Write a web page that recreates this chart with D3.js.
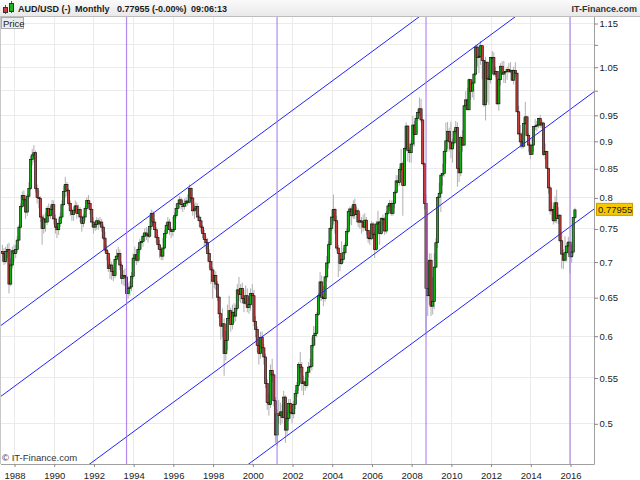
<!DOCTYPE html>
<html>
<head>
<meta charset="utf-8">
<script src="https://cdn.jsdelivr.net/npm/d3@7"></script>
<style>
body { margin: 0; background: #fff; }
svg { display: block; }
text { font-family: "Liberation Sans", Arial, sans-serif; }
</style>
</head>
<body>
<svg id="chart" width="640" height="480"></svg>
<script>
// monthly AUD/USD candles, first one is June 1987
var firstMonth = new Date(1987, 5, 1)
var firstOpen = 0.715

var closes = [
  0.712, 0.700, 0.715, 0.718, 0.668, 0.695, 0.716,
  0.712, 0.718, 0.732, 0.752, 0.785, 0.803, 0.796, 0.776, 0.802, 0.815, 0.866, 0.874,
  0.878, 0.815, 0.800, 0.798, 0.768, 0.750, 0.765, 0.760, 0.782, 0.770, 0.780, 0.788,
  0.765, 0.752, 0.748, 0.758, 0.768, 0.788, 0.810, 0.822, 0.812, 0.790, 0.778, 0.772,
  0.779, 0.786, 0.774, 0.780, 0.768, 0.758, 0.768, 0.782, 0.795, 0.790, 0.780, 0.760,
  0.752, 0.756, 0.762, 0.757, 0.760, 0.752, 0.735, 0.717, 0.712, 0.690, 0.695, 0.686,
  0.680, 0.703, 0.708, 0.712, 0.695, 0.676, 0.680, 0.678, 0.655, 0.662, 0.664, 0.679,
  0.705, 0.710, 0.702, 0.718, 0.728, 0.730, 0.738, 0.743, 0.740, 0.738, 0.753, 0.774,
  0.760, 0.748, 0.736, 0.725, 0.718, 0.708, 0.720, 0.742, 0.755, 0.760, 0.748, 0.745,
  0.748, 0.770, 0.782, 0.790, 0.796, 0.788, 0.785, 0.790, 0.794, 0.792, 0.815, 0.799,
  0.778, 0.781, 0.785, 0.768, 0.762, 0.752, 0.742, 0.733, 0.728, 0.712, 0.700, 0.688,
  0.672, 0.680, 0.668, 0.650, 0.628, 0.612, 0.615, 0.578, 0.594, 0.622, 0.632, 0.614,
  0.630, 0.625, 0.635, 0.660, 0.654, 0.662, 0.648, 0.642, 0.652, 0.636, 0.640, 0.655,
  0.652, 0.618, 0.608, 0.588, 0.578, 0.598, 0.585, 0.574, 0.543, 0.522, 0.520, 0.558,
  0.553, 0.524, 0.488, 0.510, 0.508, 0.512, 0.506, 0.528, 0.493, 0.505, 0.521, 0.511,
  0.510, 0.520, 0.532, 0.541, 0.565, 0.562, 0.543, 0.545, 0.541, 0.556, 0.562, 0.563,
  0.588, 0.600, 0.603, 0.627, 0.652, 0.671, 0.650, 0.648, 0.678, 0.698, 0.725, 0.750,
  0.768, 0.780, 0.762, 0.720, 0.712, 0.697, 0.703, 0.713, 0.724, 0.745, 0.777, 0.781,
  0.770, 0.788, 0.772, 0.778, 0.760, 0.762, 0.760, 0.752, 0.763, 0.747, 0.735, 0.734,
  0.757, 0.741, 0.718, 0.757, 0.760, 0.742, 0.766, 0.764, 0.746, 0.774, 0.786, 0.790,
  0.774, 0.790, 0.808, 0.828, 0.825, 0.848, 0.858, 0.820, 0.886, 0.928, 0.882, 0.878,
  0.894, 0.930, 0.912, 0.943, 0.955, 0.962, 0.940, 0.858, 0.790, 0.662, 0.652, 0.702,
  0.638, 0.644, 0.692, 0.728, 0.800, 0.807, 0.838, 0.841, 0.880, 0.900, 0.918, 0.898,
  0.885, 0.896, 0.918, 0.925, 0.850, 0.842, 0.906, 0.892, 0.968, 0.980, 0.960, 1.022,
  0.998, 1.015, 1.034, 1.094, 1.070, 1.072, 1.097, 1.064, 0.970, 1.060, 1.024, 1.022,
  1.070, 1.070, 1.034, 1.040, 0.972, 1.022, 1.051, 1.034, 1.038, 1.040, 1.044, 1.039,
  1.042, 1.021, 1.042, 1.036, 0.956, 0.913, 0.898, 0.890, 0.933, 0.946, 0.910, 0.892,
  0.875, 0.892, 0.927, 0.928, 0.930, 0.943, 0.930, 0.934, 0.875, 0.880, 0.850, 0.816,
  0.778, 0.780, 0.762, 0.791, 0.766, 0.771, 0.731, 0.711, 0.702, 0.713, 0.723, 0.729,
  0.707, 0.714, 0.767, 0.77955
]

var highs = [
  0.725, 0.720, 0.722, 0.726, 0.728, 0.705, 0.722,
  0.725, 0.725, 0.738, 0.756, 0.790, 0.810, 0.812, 0.800, 0.806, 0.825, 0.872, 0.885,
  0.892, 0.882, 0.822, 0.812, 0.802, 0.772, 0.772, 0.775, 0.786, 0.790, 0.786, 0.796,
  0.795, 0.772, 0.760, 0.765, 0.775, 0.795, 0.820, 0.835, 0.826, 0.815, 0.795, 0.782,
  0.785, 0.795, 0.792, 0.788, 0.784, 0.770, 0.772, 0.786, 0.800, 0.804, 0.795, 0.782,
  0.768, 0.762, 0.768, 0.766, 0.768, 0.765, 0.756, 0.745, 0.725, 0.715, 0.705, 0.700,
  0.692, 0.708, 0.718, 0.722, 0.718, 0.700, 0.688, 0.690, 0.682, 0.670, 0.672, 0.685,
  0.712, 0.722, 0.718, 0.722, 0.734, 0.738, 0.742, 0.750, 0.752, 0.750, 0.770, 0.780,
  0.778, 0.765, 0.752, 0.740, 0.732, 0.722, 0.735, 0.748, 0.760, 0.768, 0.765, 0.752,
  0.768, 0.775, 0.790, 0.796, 0.802, 0.800, 0.795, 0.798, 0.800, 0.805, 0.822, 0.818,
  0.800, 0.790, 0.792, 0.790, 0.772, 0.768, 0.755, 0.748, 0.738, 0.735, 0.718, 0.700,
  0.692, 0.688, 0.686, 0.672, 0.652, 0.630, 0.635, 0.622, 0.606, 0.640, 0.652, 0.636,
  0.640, 0.642, 0.640, 0.668, 0.678, 0.668, 0.670, 0.660, 0.666, 0.662, 0.650, 0.662,
  0.668, 0.660, 0.625, 0.612, 0.592, 0.605, 0.605, 0.590, 0.578, 0.548, 0.532, 0.565,
  0.572, 0.555, 0.528, 0.515, 0.525, 0.522, 0.520, 0.535, 0.530, 0.512, 0.526, 0.526,
  0.522, 0.524, 0.536, 0.545, 0.568, 0.580, 0.568, 0.552, 0.550, 0.558, 0.568, 0.572,
  0.598, 0.612, 0.612, 0.630, 0.656, 0.685, 0.680, 0.665, 0.680, 0.708, 0.730, 0.752,
  0.780, 0.805, 0.783, 0.770, 0.725, 0.710, 0.730, 0.720, 0.728, 0.750, 0.782, 0.785,
  0.786, 0.795, 0.798, 0.785, 0.782, 0.774, 0.768, 0.772, 0.774, 0.768, 0.748, 0.745,
  0.762, 0.760, 0.745, 0.762, 0.778, 0.762, 0.768, 0.772, 0.768, 0.778, 0.790, 0.796,
  0.795, 0.795, 0.812, 0.838, 0.838, 0.852, 0.885, 0.862, 0.888, 0.935, 0.930, 0.888,
  0.902, 0.948, 0.938, 0.948, 0.962, 0.985, 0.982, 0.940, 0.860, 0.805, 0.700, 0.712,
  0.712, 0.678, 0.712, 0.735, 0.802, 0.825, 0.842, 0.858, 0.885, 0.935, 0.936, 0.925,
  0.936, 0.904, 0.922, 0.938, 0.935, 0.880, 0.910, 0.920, 0.970, 0.998, 1.005, 1.025,
  1.020, 1.020, 1.036, 1.098, 1.101, 1.077, 1.108, 1.077, 1.060, 1.072, 1.056, 1.030,
  1.072, 1.085, 1.082, 1.050, 1.040, 1.025, 1.058, 1.062, 1.063, 1.040, 1.050, 1.058,
  1.060, 1.044, 1.050, 1.060, 1.037, 0.968, 0.930, 0.917, 0.945, 0.976, 0.948, 0.915,
  0.895, 0.905, 0.928, 0.942, 0.938, 0.944, 0.950, 0.940, 0.935, 0.895, 0.882, 0.850,
  0.820, 0.793, 0.786, 0.802, 0.813, 0.784, 0.772, 0.743, 0.718, 0.738, 0.728, 0.737,
  0.730, 0.725, 0.768, 0.783
]

var lows = [
  0.700, 0.695, 0.697, 0.705, 0.655, 0.665, 0.690,
  0.700, 0.705, 0.714, 0.730, 0.750, 0.782, 0.785, 0.765, 0.770, 0.798, 0.812, 0.855,
  0.860, 0.808, 0.790, 0.782, 0.760, 0.725, 0.742, 0.745, 0.755, 0.760, 0.765, 0.772,
  0.756, 0.742, 0.735, 0.740, 0.752, 0.764, 0.785, 0.800, 0.802, 0.786, 0.770, 0.762,
  0.762, 0.774, 0.765, 0.768, 0.760, 0.745, 0.752, 0.762, 0.778, 0.782, 0.772, 0.752,
  0.742, 0.746, 0.748, 0.748, 0.752, 0.745, 0.732, 0.712, 0.702, 0.685, 0.675, 0.674,
  0.672, 0.676, 0.696, 0.700, 0.688, 0.668, 0.666, 0.665, 0.640, 0.648, 0.652, 0.658,
  0.675, 0.700, 0.695, 0.698, 0.712, 0.718, 0.722, 0.730, 0.732, 0.728, 0.735, 0.748,
  0.752, 0.735, 0.728, 0.718, 0.705, 0.702, 0.702, 0.718, 0.735, 0.748, 0.740, 0.735,
  0.738, 0.745, 0.765, 0.775, 0.782, 0.780, 0.776, 0.780, 0.784, 0.786, 0.790, 0.788,
  0.770, 0.765, 0.772, 0.762, 0.752, 0.745, 0.735, 0.722, 0.718, 0.700, 0.690, 0.668,
  0.648, 0.662, 0.660, 0.645, 0.622, 0.595, 0.598, 0.552, 0.570, 0.582, 0.618, 0.605,
  0.608, 0.616, 0.618, 0.632, 0.645, 0.642, 0.642, 0.630, 0.640, 0.630, 0.628, 0.632,
  0.638, 0.612, 0.598, 0.580, 0.565, 0.572, 0.578, 0.565, 0.538, 0.514, 0.508, 0.516,
  0.545, 0.518, 0.480, 0.477, 0.500, 0.498, 0.500, 0.505, 0.480, 0.488, 0.502, 0.505,
  0.500, 0.505, 0.515, 0.528, 0.535, 0.555, 0.535, 0.530, 0.535, 0.538, 0.550, 0.555,
  0.558, 0.585, 0.588, 0.598, 0.625, 0.645, 0.645, 0.638, 0.644, 0.672, 0.690, 0.718,
  0.746, 0.756, 0.742, 0.716, 0.678, 0.686, 0.695, 0.698, 0.710, 0.722, 0.742, 0.756,
  0.755, 0.765, 0.765, 0.760, 0.752, 0.750, 0.742, 0.745, 0.748, 0.740, 0.728, 0.725,
  0.732, 0.735, 0.705, 0.716, 0.740, 0.725, 0.740, 0.755, 0.740, 0.742, 0.770, 0.778,
  0.770, 0.770, 0.782, 0.805, 0.818, 0.820, 0.845, 0.770, 0.820, 0.880, 0.862, 0.860,
  0.860, 0.888, 0.890, 0.915, 0.938, 0.948, 0.935, 0.855, 0.780, 0.601, 0.625, 0.640,
  0.625, 0.627, 0.634, 0.690, 0.720, 0.785, 0.776, 0.820, 0.835, 0.858, 0.885, 0.880,
  0.868, 0.860, 0.890, 0.912, 0.818, 0.826, 0.836, 0.880, 0.890, 0.960, 0.960, 0.968,
  0.980, 0.985, 0.980, 1.030, 1.050, 1.036, 1.054, 1.023, 0.966, 0.939, 0.975, 0.970,
  1.014, 1.058, 1.030, 1.027, 0.970, 0.958, 1.010, 1.032, 1.015, 1.015, 1.022, 1.036,
  1.036, 1.020, 1.012, 1.026, 0.956, 0.911, 0.887, 0.885, 0.886, 0.930, 0.908, 0.880,
  0.866, 0.878, 0.880, 0.920, 0.918, 0.924, 0.925, 0.924, 0.872, 0.866, 0.850, 0.806,
  0.772, 0.763, 0.756, 0.758, 0.758, 0.757, 0.728, 0.690, 0.689, 0.700, 0.700, 0.710,
  0.683, 0.698, 0.709, 0.764
]

// price axis
var priceTicks = [0.5, 0.55, 0.6, 0.65, 0.7, 0.75, 0.8, 0.85, 0.9, 0.95, 1.0, 1.05, 1.1, 1.15]
var priceLabels = ["0.5", "0.55", "0.6", "0.65", "0.7", "0.75", "0.8", "0.85", "0.9", "0.95", "", "1.05", "", "1.15"]
var yearTicks = [1988, 1990, 1992, 1994, 1996, 1998, 2000, 2002, 2004, 2006, 2008, 2010, 2012, 2014, 2016]

// drawn trend channel: [start year, start price, end year, end price]
var channels = [
  [1987, 0.6065, 2018, 1.561],
  [1987, 0.5234, 2018, 1.347],
  [1987, 0.3967, 2018, 1.021],
  [1987, 0.3107, 2018, 0.800]
]
// cycle markers [year, month]
var cycleMarks = [[1993, 8], [2001, 3], [2008, 9], [2016, 0]]

var lastPrice = "0.77955"
var headerItems = [["AUD/USD (-)", 18], ["Monthly", 75], ["0.77955 (-0.00%)", 117], ["09:06:13", 191]]

var svg = d3.select('#chart')
var plotL = 1, plotR = 594, plotT = 17, plotB = 464

var x = d3.scaleTime()
  .domain([new Date(1988, 0, 1), new Date(2016, 0, 1)])
  .range([14, 570])
var y = d3.scaleLog()
  .domain([0.5, 1.15])
  .range([423.3, 23])

var candles = closes.map(function(c, i) {
  return {
    date: new Date(firstMonth.getFullYear(), firstMonth.getMonth() + i, 1),
    open: i == 0 ? firstOpen : closes[i - 1],
    high: highs[i], low: lows[i], close: c
  }
})

var defs = svg.append('defs')
defs.append('clipPath').attr('id', 'plotclip')
  .append('rect').attr('x', plotL).attr('y', plotT)
  .attr('width', plotR - plotL).attr('height', plotB - plotT)

var grad = defs.append('linearGradient')
  .attr('id', 'hdr').attr('x1', 0).attr('x2', 0).attr('y1', 0).attr('y2', 1)
grad.append('stop').attr('offset', '0%').attr('stop-color', '#fafafa')
grad.append('stop').attr('offset', '100%').attr('stop-color', '#e9e9e9')

// grid
svg.append('g').selectAll('line').data(priceTicks).join('line')
  .attr('x1', plotL).attr('x2', plotR)
  .attr('y1', d => Math.round(y(d)) + 0.5).attr('y2', d => Math.round(y(d)) + 0.5)
  .attr('stroke', '#ebebeb')
svg.append('g').selectAll('line').data(yearTicks).join('line')
  .attr('x1', d => Math.round(x(new Date(d, 0, 1))) + 0.5)
  .attr('x2', d => Math.round(x(new Date(d, 0, 1))) + 0.5)
  .attr('y1', plotT).attr('y2', plotB)
  .attr('stroke', '#ebebeb')

var plot = svg.append('g').attr('clip-path', 'url(#plotclip)')

// wicks
plot.append('g').selectAll('line').data(candles).join('line')
  .attr('x1', d => x(d.date)).attr('x2', d => x(d.date))
  .attr('y1', d => y(Math.max(d.high, d.open, d.close)))
  .attr('y2', d => y(Math.min(d.low, d.open, d.close)))
  .attr('stroke', '#b0b0b0')
  .attr('stroke-width', 1)

// bodies
plot.append('g').selectAll('rect').data(candles).join('rect')
  .attr('x', d => x(d.date) - 1.1)
  .attr('width', 2.2)
  .attr('y', d => y(Math.max(d.open, d.close)))
  .attr('height', d => Math.max(0.6, y(Math.min(d.open, d.close)) - y(Math.max(d.open, d.close))))
  .attr('fill', d => d.close >= d.open ? '#12b012' : '#c83c3c')
  .attr('stroke', '#111')
  .attr('stroke-width', 0.65)

// channel lines
plot.append('g').selectAll('line').data(channels).join('line')
  .attr('x1', d => x(new Date(d[0], 0, 1))).attr('y1', d => y(d[1]))
  .attr('x2', d => x(new Date(d[2], 0, 1))).attr('y2', d => y(d[3]))
  .attr('stroke', '#2222ff')
  .attr('stroke-width', 1)

// vertical cycle lines
plot.append('g').selectAll('line').data(cycleMarks).join('line')
  .attr('x1', d => x(new Date(d[0], d[1], 1))).attr('x2', d => x(new Date(d[0], d[1], 1)))
  .attr('y1', plotT).attr('y2', plotB)
  .attr('stroke', '#9a6ee8')
  .attr('stroke-opacity', 0.8)
  .attr('stroke-width', 1.2)

// frame
svg.append('line').attr('x1', plotR + 0.5).attr('x2', plotR + 0.5).attr('y1', plotT).attr('y2', plotB + 0.5)
  .attr('stroke', '#a0a0a0')
svg.append('line').attr('x1', plotL).attr('x2', plotR + 0.5).attr('y1', plotB + 0.5).attr('y2', plotB + 0.5)
  .attr('stroke', '#a0a0a0')
svg.append('line').attr('x1', 0.5).attr('x2', 0.5).attr('y1', plotT).attr('y2', plotB)
  .attr('stroke', '#c8c8c8')

// axes
var yAxis = svg.append('g')
  .attr('transform', `translate(${plotR},0.5)`)
  .call(d3.axisRight(y).tickValues(priceTicks).tickSize(4).tickPadding(1.5)
    .tickFormat((d, i) => priceLabels[i]))
yAxis.select('.domain').remove()
yAxis.selectAll('line').attr('stroke', '#888')
yAxis.selectAll('text').attr('font-size', 9.5).attr('fill', '#222')
  .attr('font-family', '"Liberation Sans", Arial, sans-serif')

var xAxis = svg.append('g')
  .attr('transform', `translate(0.5,${plotB})`)
  .call(d3.axisBottom(x).tickValues(yearTicks.map(d => new Date(d, 0, 1))).tickSize(3).tickPadding(5)
    .tickFormat(d3.timeFormat('%Y')))
xAxis.select('.domain').remove()
xAxis.selectAll('line').attr('stroke', '#888')
xAxis.selectAll('text').attr('font-size', 9.5).attr('fill', '#222')
  .attr('font-family', '"Liberation Sans", Arial, sans-serif')

// last price tag
svg.append('rect').attr('x', 596.5).attr('y', y(+lastPrice) - 6.5).attr('width', 36).attr('height', 12)
  .attr('fill', '#f7c800').attr('stroke', '#c89b00')
svg.append('text').attr('x', 598).attr('y', y(+lastPrice) + 3.5)
  .attr('font-size', 9.5).attr('fill', '#222').text(lastPrice)

// header bar
svg.append('rect').attr('x', 0).attr('y', 0).attr('width', 640).attr('height', 16)
  .attr('fill', 'url(#hdr)')
svg.append('line').attr('x1', 0).attr('x2', 640).attr('y1', 16.5).attr('y2', 16.5).attr('stroke', '#bdbdbd')
var icon = svg.append('g')
icon.append('line').attr('x1', 5.5).attr('x2', 5.5).attr('y1', 5).attr('y2', 14).attr('stroke', '#555')
icon.append('rect').attr('x', 3.5).attr('y', 7.5).attr('width', 4).attr('height', 5).attr('fill', '#d23a3a').attr('stroke', '#333')
icon.append('line').attr('x1', 11.5).attr('x2', 11.5).attr('y1', 1).attr('y2', 13).attr('stroke', '#555')
icon.append('rect').attr('x', 9.5).attr('y', 3.5).attr('width', 4).attr('height', 8).attr('fill', '#22b022').attr('stroke', '#333')
svg.append('g').selectAll('text').data(headerItems).join('text')
  .attr('x', d => d[1]).attr('y', 11.5)
  .attr('font-size', 9).attr('font-weight', 'bold').attr('fill', '#1a1a1a')
  .text(d => d[0])
svg.append('text').attr('x', 637).attr('y', 11.5).attr('text-anchor', 'end')
  .attr('font-size', 9).attr('font-weight', 'bold').attr('fill', '#333')
  .text('IT-Finance.com')

// price pane label
svg.append('rect').attr('x', 1.5).attr('y', 17.5).attr('width', 22).attr('height', 11)
  .attr('fill', '#ececec').attr('stroke', '#aaa')
svg.append('text').attr('x', 3).attr('y', 26.5).attr('font-size', 9.5).attr('fill', '#222').text('Price')

svg.append('text').attr('x', 2).attr('y', 461).attr('font-size', 9.5).attr('fill', '#333')
  .text('\u00a9 IT-Finance.com')
</script>
</body>
</html>
